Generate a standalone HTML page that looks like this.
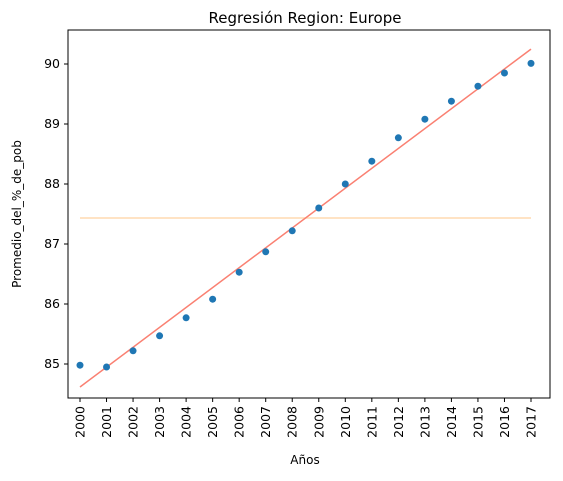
<!DOCTYPE html>
<html><head><meta charset="utf-8"><style>
body{margin:0;background:#fff;font-family:"Liberation Sans","DejaVu Sans",sans-serif;}
svg text{font-family:"DejaVu Sans","Liberation Sans",sans-serif;fill:#000;}
</style></head><body>
<svg id="chart" width="563" height="476">
<text x="305" y="23" font-size="15" text-anchor="middle">Regresión Region: Europe</text>
<g id="plot"></g>
<rect x="68" y="30" width="482" height="368" fill="none" stroke="#000" stroke-width="1"/>
<text x="305" y="464" font-size="12" text-anchor="middle">Años</text>
<text transform="translate(21,214) rotate(-90)" font-size="12" text-anchor="middle">Promedio_del_%_de_pob</text>
</svg>
<script>
const years=[2000,2001,2002,2003,2004,2005,2006,2007,2008,2009,2010,2011,2012,2013,2014,2015,2016,2017];
const values=[84.98,84.95,85.22,85.47,85.77,86.08,86.53,86.87,87.22,87.6,88.0,88.38,88.77,89.08,89.38,89.63,89.85,90.01];
const yTicks=[85,86,87,88,89,90];
const NS="http://www.w3.org/2000/svg";
const g=document.getElementById('plot');
function xs(i){return 80+i*(531-80)/(years.length-1);}
function ys(v){return 64+(90-v)*60;}
function mk(t,a){const e=document.createElementNS(NS,t);for(const k in a)e.setAttribute(k,a[k]);g.appendChild(e);return e;}
yTicks.forEach(t=>{
 const l=mk('line',{x1:64,x2:68,y1:ys(t),y2:ys(t),stroke:'#000'});
 
 
 const tx=mk('text',{x:60,y:ys(t)+4,'font-size':12.5,'text-anchor':'end'});tx.textContent=t;
 
 
});
years.forEach((y,i)=>{
 const l=mk('line',{x1:xs(i),x2:xs(i),y1:398,y2:402,stroke:'#000'});
 
 
 const tx=mk('text',{transform:`translate(${xs(i)+4.5},406) rotate(-90)`,'font-size':12.5,'text-anchor':'end'});tx.textContent=y;
 
 
});
const n=values.length;
const mean=values.reduce((a,b)=>a+b,0)/n;
const xm=(n-1)/2;
let sxy=0,sxx=0;values.forEach((v,i)=>{sxy+=(i-xm)*(v-mean);sxx+=(i-xm)*(i-xm);});
const slope=sxy/sxx, icpt=mean-slope*xm;
const ml=mk('line',{x1:xs(0),x2:xs(n-1),y1:ys(mean),y2:ys(mean),stroke:'#ffdab0','stroke-width':1.5});


const rl=mk('line',{x1:xs(0),x2:xs(n-1),y1:ys(icpt),y2:ys(icpt+slope*(n-1)),stroke:'#fa8072','stroke-width':1.5});


values.forEach((v,i)=>{
 const c=mk('circle',{cx:xs(i),cy:ys(v),r:3.5,fill:'#1f77b4'});
 
 
});
</script>
</body></html>
